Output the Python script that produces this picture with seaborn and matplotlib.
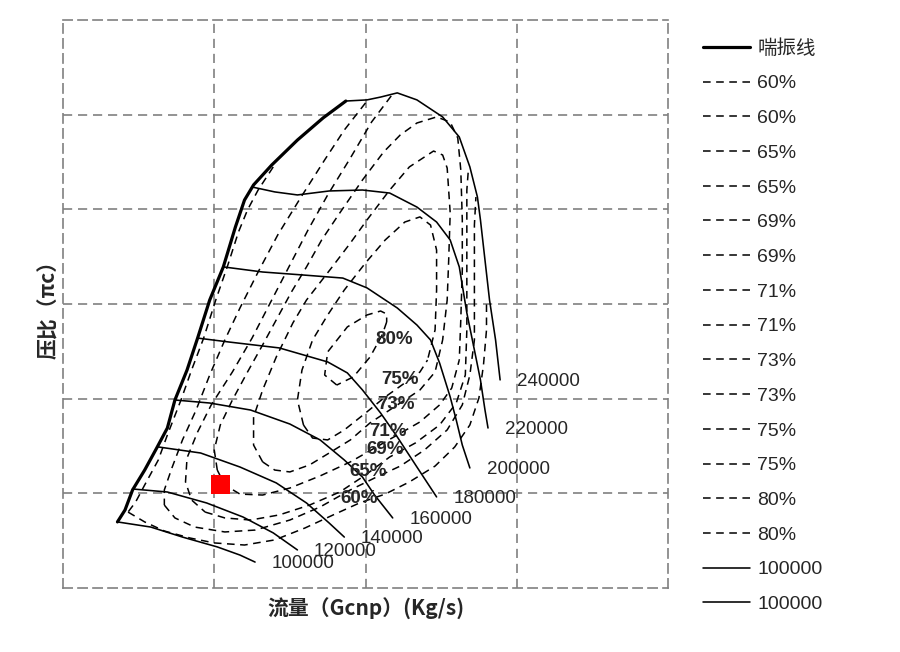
import pandas as pd
import seaborn as sns
from matplotlib import pyplot as plt

sns.set_style('white')
plt.rcParams['font.family'] = ['Liberation Sans', 'Noto Sans CJK SC']

# compressor map: (flow Gcnp kg/s, pressure ratio)
surge = [(0.036, 1.349), (0.041, 1.412), (0.046, 1.518), (0.054, 1.623), (0.062, 1.740),
         (0.069, 1.845), (0.074, 1.993), (0.082, 2.151), (0.089, 2.320), (0.097, 2.521),
         (0.106, 2.696), (0.114, 2.907), (0.120, 3.049), (0.126, 3.129), (0.138, 3.234),
         (0.155, 3.366), (0.172, 3.483), (0.187, 3.572)]

# speed lines (rpm)
speed_names = ['100000', '120000', '140000', '160000', '180000', '200000', '220000', '240000']
sp100 = [(0.036, 1.349), (0.058, 1.322), (0.079, 1.269), (0.102, 1.217), (0.117, 1.174), (0.127, 1.137)]
sp120 = [(0.046, 1.523), (0.069, 1.507), (0.095, 1.449), (0.119, 1.375), (0.139, 1.291), (0.155, 1.201)]
sp140 = [(0.063, 1.745), (0.091, 1.713), (0.117, 1.639), (0.141, 1.555), (0.161, 1.449), (0.176, 1.343),
         (0.186, 1.269)]
sp160 = [(0.074, 1.993), (0.097, 1.977), (0.124, 1.940), (0.150, 1.866), (0.170, 1.782), (0.186, 1.676),
         (0.198, 1.586), (0.206, 1.491), (0.218, 1.370)]
sp180 = [(0.089, 2.320), (0.110, 2.299), (0.143, 2.268), (0.175, 2.194), (0.188, 2.136), (0.198, 2.046),
         (0.210, 1.924), (0.221, 1.798), (0.234, 1.639), (0.247, 1.481)]
sp200 = [(0.106, 2.696), (0.132, 2.669), (0.159, 2.653), (0.185, 2.637), (0.201, 2.585), (0.221, 2.479),
         (0.234, 2.389), (0.243, 2.310), (0.249, 2.188), (0.256, 2.009), (0.260, 1.887), (0.264, 1.755),
         (0.269, 1.634)]
sp220 = [(0.125, 3.118), (0.140, 3.092), (0.155, 3.076), (0.176, 3.097), (0.198, 3.102), (0.216, 3.086),
         (0.234, 3.012), (0.247, 2.933), (0.256, 2.838), (0.262, 2.696), (0.267, 2.453), (0.272, 2.257),
         (0.276, 2.099), (0.279, 1.940), (0.281, 1.845)]
sp240 = [(0.187, 3.572), (0.201, 3.578), (0.210, 3.593), (0.221, 3.615), (0.234, 3.578), (0.251, 3.488),
         (0.262, 3.382), (0.269, 3.224), (0.274, 3.065), (0.276, 2.944), (0.279, 2.732), (0.282, 2.521),
         (0.286, 2.310), (0.289, 2.099)]
speed_lines = [sp100, sp120, sp140, sp160, sp180, sp200, sp220, sp240]

# efficiency contours, each in two branches (upper / lower)
eff_names = ['60%', '65%', '69%', '71%', '73%', '75%', '80%']
e60_up = [(0.139, 3.224), (0.129, 3.102), (0.122, 2.997), (0.116, 2.880), (0.109, 2.706), (0.101, 2.521),
          (0.093, 2.320), (0.085, 2.151), (0.078, 1.993), (0.069, 1.808), (0.063, 1.676), (0.054, 1.544),
          (0.048, 1.454), (0.043, 1.401)]
e60_lo = [(0.043, 1.401), (0.054, 1.349), (0.067, 1.301), (0.084, 1.264), (0.100, 1.238), (0.120, 1.227),
          (0.140, 1.254), (0.160, 1.317), (0.180, 1.391), (0.196, 1.449), (0.213, 1.496), (0.229, 1.560),
          (0.246, 1.644), (0.259, 1.745), (0.269, 1.861), (0.275, 2.004), (0.278, 2.178), (0.280, 2.363),
          (0.280, 2.500)]
e65_up = [(0.200, 3.562), (0.186, 3.419), (0.173, 3.261), (0.157, 3.060), (0.142, 2.865), (0.129, 2.669),
          (0.117, 2.479), (0.107, 2.310), (0.097, 2.125), (0.088, 1.940), (0.079, 1.782), (0.072, 1.634),
          (0.067, 1.518), (0.067, 1.438)]
e65_lo = [(0.067, 1.438), (0.074, 1.370), (0.087, 1.322), (0.107, 1.296), (0.127, 1.306), (0.150, 1.359),
          (0.170, 1.428), (0.190, 1.518), (0.206, 1.581), (0.223, 1.644), (0.239, 1.729), (0.254, 1.835),
          (0.264, 1.967), (0.269, 2.125), (0.272, 2.310), (0.272, 2.521), (0.272, 2.732), (0.272, 2.917),
          (0.273, 3.065)]
e69_up = [(0.217, 3.599), (0.204, 3.461), (0.190, 3.271), (0.175, 3.076), (0.162, 2.891), (0.150, 2.706),
          (0.138, 2.521), (0.125, 2.320), (0.112, 2.141), (0.098, 1.967), (0.089, 1.824), (0.082, 1.687),
          (0.081, 1.560), (0.085, 1.465), (0.094, 1.401)]
e69_lo = [(0.094, 1.401), (0.107, 1.370), (0.124, 1.359), (0.143, 1.386), (0.163, 1.438), (0.183, 1.507),
          (0.200, 1.597), (0.216, 1.692), (0.233, 1.766), (0.249, 1.861), (0.260, 1.977), (0.266, 2.125),
          (0.267, 2.363), (0.267, 2.627), (0.267, 2.891), (0.267, 3.102), (0.268, 3.208)]
e71_up = [(0.102, 1.623), (0.100, 1.729), (0.104, 1.861), (0.112, 1.993), (0.122, 2.141), (0.132, 2.284),
          (0.142, 2.431), (0.151, 2.563), (0.161, 2.696), (0.171, 2.838), (0.183, 2.981), (0.198, 3.155),
          (0.212, 3.303), (0.223, 3.393), (0.234, 3.456), (0.247, 3.488), (0.256, 3.461), (0.261, 3.377),
          (0.263, 3.208), (0.264, 2.944), (0.264, 2.680), (0.263, 2.416), (0.262, 2.204)]
e71_lo = [(0.102, 1.623), (0.107, 1.544), (0.117, 1.496), (0.132, 1.491), (0.150, 1.528), (0.170, 1.592),
          (0.190, 1.666), (0.206, 1.739), (0.221, 1.808), (0.236, 1.877), (0.249, 1.967), (0.257, 2.056),
          (0.262, 2.204)]
e73_up = [(0.132, 1.666), (0.126, 1.755), (0.126, 1.903), (0.132, 2.046), (0.141, 2.220), (0.152, 2.400),
          (0.161, 2.521), (0.178, 2.696), (0.190, 2.822), (0.201, 2.944), (0.216, 3.102), (0.229, 3.224),
          (0.245, 3.308), (0.251, 3.287), (0.254, 3.218), (0.256, 2.981), (0.255, 2.732), (0.254, 2.521),
          (0.251, 2.310)]
e73_lo = [(0.132, 1.666), (0.140, 1.623), (0.150, 1.613), (0.163, 1.650), (0.176, 1.713), (0.190, 1.782),
          (0.203, 1.872), (0.219, 1.956), (0.236, 2.046), (0.246, 2.141), (0.251, 2.310)]
e75_up = [(0.159, 1.861), (0.155, 1.993), (0.158, 2.151), (0.165, 2.310), (0.175, 2.442), (0.186, 2.574),
          (0.200, 2.717), (0.213, 2.838), (0.226, 2.933), (0.236, 2.960), (0.243, 2.917), (0.247, 2.785),
          (0.247, 2.574), (0.246, 2.363), (0.241, 2.204)]
e75_lo = [(0.159, 1.861), (0.165, 1.792), (0.175, 1.782), (0.186, 1.835), (0.200, 1.924), (0.213, 2.009),
          (0.226, 2.083), (0.236, 2.141), (0.241, 2.204)]
e80_up = [(0.181, 2.072), (0.173, 2.125), (0.175, 2.247), (0.188, 2.379), (0.201, 2.442), (0.210, 2.463),
          (0.214, 2.447), (0.214, 2.405)]
e80_lo = [(0.214, 2.405), (0.211, 2.336), (0.203, 2.220), (0.192, 2.115), (0.181, 2.072)]
eff_branches = [(e60_up, e60_lo), (e65_up, e65_lo), (e69_up, e69_lo), (e71_up, e71_lo),
                (e73_up, e73_lo), (e75_up, e75_lo), (e80_up, e80_lo)]
eff_label_xy = [(0.196, 1.475), (0.202, 1.613), (0.213, 1.729), (0.215, 1.824),
                (0.220, 1.967), (0.223, 2.099), (0.219, 2.310)]

# operating point
op_flow = [0.1044]
op_pr = [1.549]

fig = plt.figure(figsize=(9, 6.52), dpi=100)
ax = fig.add_axes([63 / 900, 64 / 652, 605 / 900, 568 / 652])


def curve(points, **kw):
    df = pd.DataFrame(points, columns=['flow', 'pr'])
    sns.lineplot(data=df, x='flow', y='pr', sort=False, estimator=None,
                 legend=False, ax=ax, color='black', **kw)
    return ax.lines[-1]


dash = (0, (5, 3.6))
handles, labels = [], []
h = curve(surge, linewidth=2.3, zorder=4)
handles.append(h)
labels.append('喘振线')

for name, (up, lo) in zip(eff_names, eff_branches):
    for br in (up, lo):
        handles.append(curve(br, linewidth=1.1, linestyle=dash, zorder=3))
        labels.append(name)

speed_handles = []
for name, pts in zip(speed_names, speed_lines):
    speed_handles.append(curve(pts, linewidth=1.15, zorder=3))
    ax.annotate(name, xy=pts[-1], xytext=(12, -1), textcoords='offset points',
                ha='left', va='center', fontsize=13.5)
handles += [speed_handles[0], speed_handles[0]]
labels += [speed_names[0], speed_names[0]]

for name, xy in zip(eff_names, eff_label_xy):
    ax.text(xy[0], xy[1], name, ha='center', va='center', fontsize=13.5,
            fontweight='bold', zorder=5)

sns.scatterplot(x=op_flow, y=op_pr, marker='s', s=185, color='red',
                edgecolor='none', ax=ax, zorder=6, legend=False)

ax.set_xlim(0, 0.4)
ax.set_ylim(1.0, 4.0)
ax.set_xticks([0.1, 0.2, 0.3])
ax.set_yticks([1.5, 2.0, 2.5, 3.0, 3.5])
ax.set_axisbelow(True)
ax.grid(True, color='#808080', linestyle=(0, (5.5, 3.5)), linewidth=1.2)
ax.tick_params(labelbottom=False, labelleft=False, direction='in', length=3,
               color='#808080', width=1)
for sp in ax.spines.values():
    sp.set_linestyle((0, (5.5, 3.5)))
    sp.set_color('#808080')
    sp.set_linewidth(1.2)

ax.set_xlabel('流量（Gcnp）(Kg/s)', fontsize=15, fontweight='bold',
              family=['Noto Sans CJK SC'], labelpad=7)
ax.set_ylabel('压比（πc）', fontsize=15, fontweight='bold',
              family=['Noto Sans CJK SC'], labelpad=3)

fig.legend(handles, labels, loc='upper left', bbox_to_anchor=(703 / 900, 1 - 39 / 652),
           frameon=False, fontsize=14, handlelength=2.4, handletextpad=0.4,
           labelspacing=0.88, borderaxespad=0, borderpad=0)

fig.savefig('out.png', dpi=100)
